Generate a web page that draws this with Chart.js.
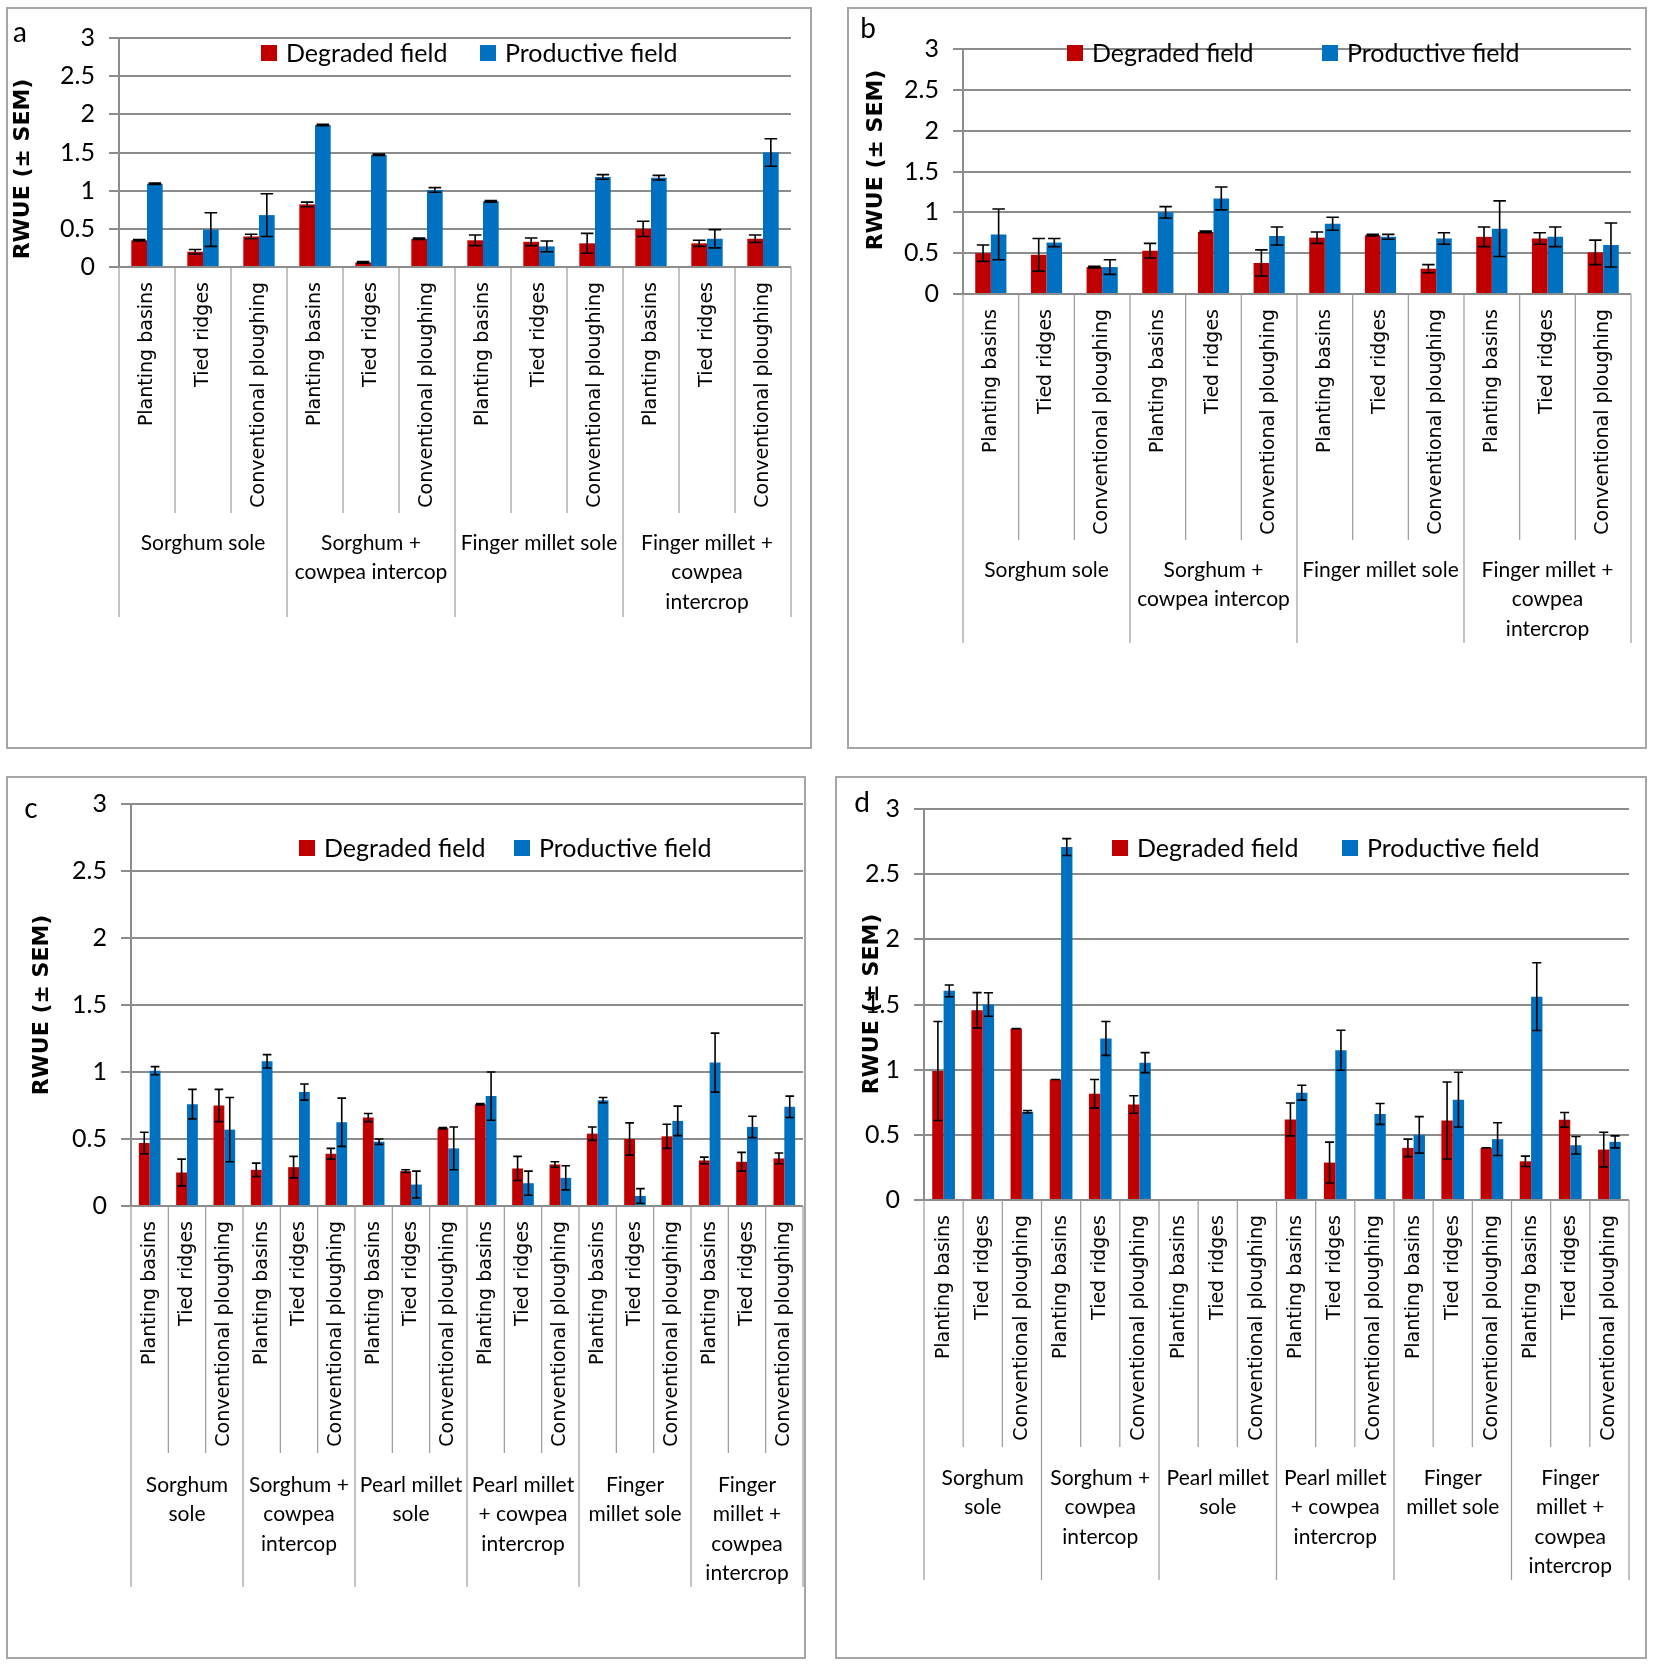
<!DOCTYPE html>
<html>
<head>
<meta charset="utf-8">
<title>RWUE</title>
<script src="https://cdn.jsdelivr.net/npm/chart.js@4.4.1/dist/chart.umd.min.js"></script>
<style>
  body { margin: 0; background: #fff; width: 1655px; height: 1666px; position: relative; overflow: hidden; }
  .panel { position: absolute; border: 2px solid #a6a6a6; box-sizing: border-box; }
  .layer { position: absolute; left: 0; top: 0; }
</style>
</head>
<body>
<script>
"use strict";

// categories
const tillage = ["Planting basins", "Tied ridges", "Conventional ploughing"];
const groupsAB = [["Sorghum sole"], ["Sorghum +", "cowpea intercop"], ["Finger millet sole"], ["Finger millet +", "cowpea", "intercrop"]];
const groupsCD = [["Sorghum", "sole"], ["Sorghum +", "cowpea", "intercop"], ["Pearl millet", "sole"],
  ["Pearl millet", "+ cowpea", "intercrop"], ["Finger", "millet sole"], ["Finger", "millet +", "cowpea", "intercrop"]];
const seriesNames = ["Degraded field", "Productive field"];
const yTitle = "RWUE (\u00b1 SEM)";

// panel a
const degA = [0.35, 0.20, 0.40, 0.82, 0.06, 0.37, 0.35, 0.33, 0.31, 0.50, 0.31, 0.37];
const degErrA = [0.01, 0.03, 0.03, 0.03, 0.01, 0.01, 0.07, 0.05, 0.13, 0.10, 0.04, 0.05];
const prodA = [1.09, 0.49, 0.68, 1.86, 1.47, 1.01, 0.86, 0.27, 1.18, 1.17, 0.37, 1.50];
const prodErrA = [0.01, 0.22, 0.28, 0.01, 0.01, 0.03, 0.01, 0.07, 0.03, 0.03, 0.12, 0.18];

// panel b
const degB = [0.50, 0.48, 0.33, 0.53, 0.76, 0.38, 0.69, 0.72, 0.31, 0.70, 0.68, 0.51];
const degErrB = [0.10, 0.20, 0.01, 0.09, 0.01, 0.16, 0.07, 0.01, 0.05, 0.12, 0.07, 0.15];
const prodB = [0.73, 0.63, 0.33, 1.00, 1.17, 0.71, 0.86, 0.70, 0.68, 0.80, 0.70, 0.60];
const prodErrB = [0.31, 0.05, 0.09, 0.07, 0.14, 0.11, 0.08, 0.03, 0.07, 0.34, 0.12, 0.27];

// panel c
const degC = [0.47, 0.25, 0.75, 0.27, 0.29, 0.39, 0.66, 0.26, 0.58, 0.76, 0.28, 0.31, 0.54, 0.50, 0.52, 0.34, 0.33, 0.355];
const degErrC = [0.08, 0.10, 0.12, 0.05, 0.08, 0.04, 0.03, 0.01, 0.005, 0.005, 0.09, 0.02, 0.05, 0.12, 0.09, 0.025, 0.07, 0.04];
const prodC = [1.01, 0.76, 0.57, 1.08, 0.85, 0.625, 0.48, 0.16, 0.43, 0.82, 0.17, 0.21, 0.79, 0.075, 0.635, 1.07, 0.59, 0.74];
const prodErrC = [0.03, 0.11, 0.24, 0.05, 0.06, 0.18, 0.02, 0.10, 0.16, 0.18, 0.09, 0.09, 0.02, 0.055, 0.11, 0.22, 0.08, 0.08];

// panel d (pearl millet sole has no data)
const degD = [0.99, 1.456, 1.315, 0.925, 0.815, 0.733, null, null, null, 0.618, 0.287, null, 0.40, 0.61, 0.40, 0.297, 0.615, 0.387];
const degErrD = [0.38, 0.135, 0, 0, 0.11, 0.067, null, null, null, 0.126, 0.157, null, 0.067, 0.295, 0, 0.04, 0.056, 0.133];
const prodD = [1.605, 1.50, 0.677, 2.708, 1.24, 1.054, null, null, null, 0.823, 1.149, 0.66, 0.50, 0.77, 0.467, 1.56, 0.42, 0.446];
const prodErrD = [0.045, 0.09, 0.01, 0.065, 0.13, 0.077, null, null, null, 0.057, 0.154, 0.08, 0.14, 0.21, 0.126, 0.26, 0.067, 0.046];

const RED = "#c00000";
const BLUE = "#0070c0";
const GRID = "#8c8c8c";
const SEP = "#9a9a9a";
const W = 1655, H = 1666;

// page layout of each panel (px)
const layouts = {
  a: { box: [6, 7, 812, 749], plot: [119, 38, 791, 267], tier: 513, sep: 617, groupY: 543, legend: [53, 261, 480], letter: [20, 33], title: [23, 169], cat: 0.56 },
  b: { box: [847, 7, 1647, 749], plot: [963, 49, 1631, 294], tier: 540, sep: 643, groupY: 570, legend: [53, 1067, 1322], letter: [868, 29], title: [876, 160], cat: 0.56 },
  c: { box: [6, 776, 806, 1659], plot: [131, 804, 803, 1206], tier: 1453, sep: 1587, groupY: 1485, legend: [848, 299, 514], letter: [31, 809], title: [42, 1005], cat: 0.58 },
  d: { box: [835, 776, 1647, 1659], plot: [924, 809, 1629, 1200], tier: 1447, sep: 1580, groupY: 1478, legend: [848, 1112, 1342], letter: [862, 803], title: [872, 1004], cat: 0.58 },
};

const errorBars = {
  id: "errorBars",
  afterDatasetsDraw(chart) {
    const { ctx } = chart;
    const y = chart.scales.y;
    ctx.save();
    ctx.strokeStyle = "#000";
    ctx.lineWidth = 1.6;
    chart.data.datasets.forEach((ds, i) => {
      chart.getDatasetMeta(i).data.forEach((bar, j) => {
        const v = ds.data[j];
        const e = ds.errors[j];
        if (v === null || e === null) return;
        const top = y.getPixelForValue(v + e);
        const bot = y.getPixelForValue(v - e);
        const half = bar.width * 0.4;
        ctx.beginPath();
        ctx.moveTo(bar.x, top); ctx.lineTo(bar.x, bot);
        ctx.moveTo(bar.x - half, top); ctx.lineTo(bar.x + half, top);
        ctx.moveTo(bar.x - half, bot); ctx.lineTo(bar.x + half, bot);
        ctx.stroke();
      });
    });
    ctx.restore();
  },
};

const decor = {
  id: "panelDecor",
  afterDraw(chart, args, opts) {
    const { ctx } = chart;
    const x = chart.scales.x;
    const y0 = chart.chartArea.bottom;
    const n = chart.data.labels.length;
    ctx.save();
    // category / group separators
    ctx.strokeStyle = SEP;
    ctx.lineWidth = 1.2;
    for (let i = 0; i <= n; i++) {
      let px;
      if (i === 0) px = x.left;
      else if (i === n) px = x.right;
      else px = (x.getPixelForValue(i - 1) + x.getPixelForValue(i)) / 2;
      ctx.beginPath();
      ctx.moveTo(px, y0);
      ctx.lineTo(px, i % 3 === 0 ? opts.sep : opts.tier);
      ctx.stroke();
    }
    // group labels
    ctx.fillStyle = "#000";
    ctx.font = "21px Lato";
    ctx.textAlign = "center";
    ctx.textBaseline = "middle";
    opts.groups.forEach((lines, g) => {
      const cx = (x.getPixelForValue(3 * g) + x.getPixelForValue(3 * g + 2)) / 2;
      lines.forEach((t, k) => ctx.fillText(t, cx, opts.groupY + k * 29.5));
    });
    // legend inside plot
    ctx.font = "25px Lato";
    ctx.textAlign = "left";
    chart.data.datasets.forEach((ds, i) => {
      const lx = opts.legend[i + 1];
      const ly = opts.legend[0];
      ctx.fillStyle = ds.backgroundColor;
      ctx.fillRect(lx, ly - 8, 16, 16);
      ctx.fillStyle = "#000";
      ctx.fillText(ds.label, lx + 25, ly + 1);
    });
    // panel letter
    ctx.font = "28px Lato";
    ctx.textAlign = "center";
    ctx.fillText(opts.name, opts.letter[0], opts.letter[1]);
    // y axis title
    ctx.save();
    ctx.translate(opts.title[0], opts.title[1]);
    ctx.rotate(-Math.PI / 2);
    ctx.font = "bold 22px 'DejaVu Sans'";
    ctx.fillText(yTitle, 0, 0);
    ctx.restore();
    ctx.restore();
  },
};

function makePanel(name, deg, degErr, prod, prodErr, groups) {
  const lay = layouts[name];
  const box = document.createElement("div");
  box.className = "panel";
  box.style.left = lay.box[0] + "px";
  box.style.top = lay.box[1] + "px";
  box.style.width = (lay.box[2] - lay.box[0]) + "px";
  box.style.height = (lay.box[3] - lay.box[1]) + "px";
  document.body.appendChild(box);

  const canvas = document.createElement("canvas");
  canvas.className = "layer";
  canvas.width = W;
  canvas.height = H;
  document.body.appendChild(canvas);

  const labels = [];
  groups.forEach(() => tillage.forEach((t) => labels.push(t)));

  return new Chart(canvas, {
    type: "bar",
    data: {
      labels: labels,
      datasets: [
        { label: seriesNames[0], data: deg, errors: degErr, backgroundColor: RED },
        { label: seriesNames[1], data: prod, errors: prodErr, backgroundColor: BLUE },
      ],
    },
    options: {
      responsive: false,
      animation: false,
      devicePixelRatio: 1,
      layout: { padding: { left: lay.box[0], top: lay.plot[1], right: W - lay.plot[2], bottom: H - lay.tier } },
      datasets: { bar: { barPercentage: 1, categoryPercentage: lay.cat } },
      plugins: {
        legend: { display: false },
        tooltip: { enabled: false },
        panelDecor: { name: name, groups: groups, tier: lay.tier, sep: lay.sep, groupY: lay.groupY, legend: lay.legend, letter: lay.letter, title: lay.title },
      },
      scales: {
        x: {
          grid: { display: false, drawTicks: false },
          border: { display: false },
          ticks: { autoSkip: false, minRotation: 90, maxRotation: 90, padding: 15, color: "#000", font: { family: "DejaVu Sans", size: 19 } },
          afterFit: (s) => { s.height = lay.tier - lay.plot[3]; },
        },
        y: {
          min: 0,
          max: 3,
          ticks: { stepSize: 0.5, padding: 14, color: "#000", font: { family: "Lato", size: 25 }, callback: (v) => String(v) },
          grid: { color: GRID, lineWidth: 2, tickLength: 10 },
          border: { color: GRID, width: 2 },
          afterFit: (s) => { s.width = lay.plot[0] - lay.box[0]; },
        },
      },
    },
    plugins: [errorBars, decor],
  });
}

makePanel("a", degA, degErrA, prodA, prodErrA, groupsAB);
makePanel("b", degB, degErrB, prodB, prodErrB, groupsAB);
makePanel("c", degC, degErrC, prodC, prodErrC, groupsCD);
makePanel("d", degD, degErrD, prodD, prodErrD, groupsCD);
</script>
</body>
</html>
